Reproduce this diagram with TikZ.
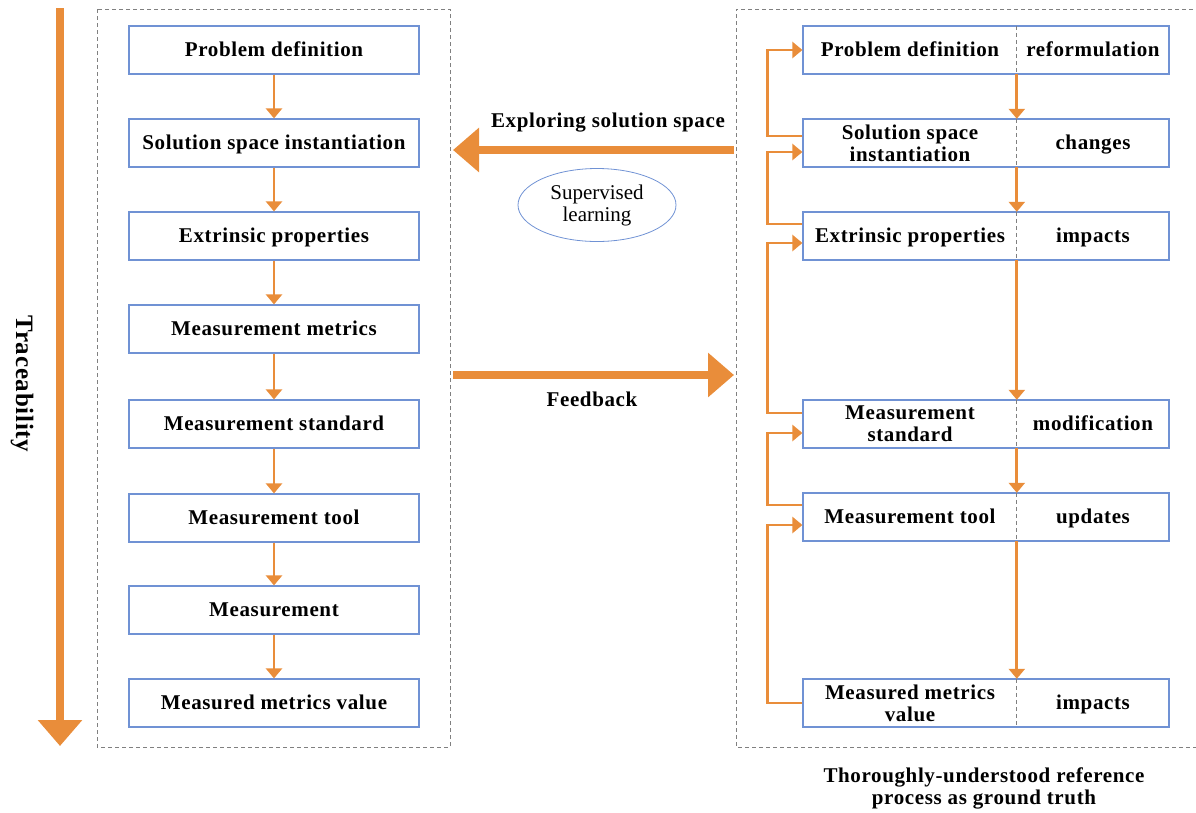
\documentclass[tikz,border=0pt]{standalone}
\usepackage{fontspec}
\setmainfont{Liberation Serif}[LetterSpace=3.0]
\usetikzlibrary{arrows.meta,shapes.geometric,calc}
\definecolor{org}{RGB}{233,141,58}
\definecolor{bx}{RGB}{112,146,212}
\definecolor{frm}{RGB}{128,128,128}
\begin{document}
\begin{tikzpicture}[x=1pt,y=-1pt,
  txt/.style={font=\fontsize{21}{22}\selectfont\bfseries, align=center, inner sep=0pt},
  one/.style={text height=15pt, text depth=2pt},
  lbox/.style={draw=bx, line width=1.2pt, minimum width=290pt, minimum height=48pt, inner sep=0pt, txt, one},
  rbox/.style={draw=bx, line width=1.2pt, minimum width=366pt, minimum height=48pt, inner sep=0pt},
  half/.style={txt, minimum height=48pt},
  flow/.style={draw=org, line width=2.8pt, -{Triangle[width=16pt,length=10pt]}},
  big/.style={draw=org, line width=8pt, -{Triangle[width=43pt,length=26pt]}},
  frame/.style={draw=frm, line width=0.9pt, dash pattern=on 4pt off 3pt},
  divider/.style={draw=frm, line width=0.8pt, dash pattern=on 4pt off 3pt}]
\useasboundingbox (0,0) rectangle (1196,812);

% frames
\draw[frame] (97,9) rectangle (450,747);
\draw[frame] (1200,9) -- (736,9) -- (736,747) -- (1200,747);

% traceability arrow
\coordinate (tA) at (60,8);
\coordinate (tB) at (60,746);
\draw[big] (tA) -- (tB);
\node[txt, font=\fontsize{25}{25}\selectfont\bfseries, rotate=-90] (trace) at (22,384) {Traceability};

% left column
\node[lbox] (L1) at (274,50) {Problem definition};
\node[lbox] (L2) at (274,143) {Solution space instantiation};
\node[lbox] (L3) at (274,236) {Extrinsic properties};
\node[lbox] (L4) at (274,329) {Measurement metrics};
\node[lbox] (L5) at (274,424) {Measurement standard};
\node[lbox] (L6) at (274,518) {Measurement tool};
\node[lbox] (L7) at (274,610) {Measurement};
\node[lbox] (L8) at (274,703) {Measured metrics value};
\foreach \a/\b in {L1/L2,L2/L3,L3/L4,L4/L5,L5/L6,L6/L7,L7/L8}
  \draw[flow] (\a.south) -- (\b.north);

% right column
\foreach \n/\y/\l/\r/\ls in {1/50/{Problem definition}/reformulation/one,
                         2/143/{Solution space\\instantiation}/changes/,
                         3/236/{Extrinsic properties}/impacts/one,
                         4/424/{Measurement\\standard}/modification/,
                         5/517/{Measurement tool}/updates/one,
                         6/703/{Measured metrics\\value}/impacts/}{
  \node[rbox] (B\n) at (986,\y) {};
  \node[half, minimum width=214pt, \ls] (P\n) at (910,\y) {\l};
  \node[half, minimum width=152pt, one] (Q\n) at (1093,\y) {\r};
  \draw[divider] (Q\n.north west) -- (Q\n.south west);
}
\foreach \a/\b in {1/2,2/3,3/4,4/5,5/6}
  \draw[flow] (Q\a.south west) -- (Q\b.north west);

% feedback loops on the right
\draw[flow] ($(B2.west)+(0,-7)$) -- ++(-35,0) |- (B1.west);
\draw[flow] ($(B3.west)+(0,-12)$) -- ++(-35,0) |- ($(B2.west)+(0,9)$);
\draw[flow] ($(B4.west)+(0,-11)$) -- ++(-35,0) |- ($(B3.west)+(0,7)$);
\draw[flow] ($(B5.west)+(0,-12)$) -- ++(-35,0) |- ($(B4.west)+(0,9)$);
\draw[flow] (B6.west) -- ++(-35,0) |- ($(B5.west)+(0,8)$);

% middle arrows
\coordinate (eA) at (734,150);
\coordinate (eB) at (453,150);
\draw[big] (eA) -- (eB);
\node[txt] (explab) at (608,123) {Exploring solution space};
\coordinate (fA) at (453,375);
\coordinate (fB) at (734,375);
\draw[big] (fA) -- (fB);
\node[txt] (fblab) at (592,399) {Feedback};

\node[draw=bx, line width=0.8pt, ellipse, minimum width=158pt, minimum height=73pt, inner sep=0pt,
      align=center, font=\fontsize{21}{22}\selectfont\addfontfeature{LetterSpace=0}] (sup) at (597,205) {Supervised\\learning};

% caption
\node[txt] (cap) at (984,788) {Thoroughly-understood reference\\process as ground truth};
\end{tikzpicture}
\end{document}
